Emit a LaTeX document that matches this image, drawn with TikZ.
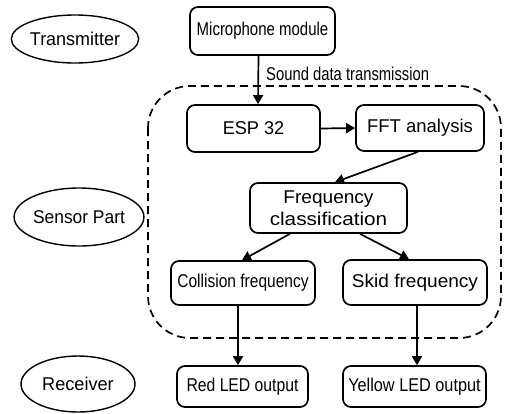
\documentclass[tikz,border=0pt]{standalone}
\usepackage{fontspec}
\setmainfont{Liberation Sans}
\usepackage{graphicx}
\usetikzlibrary{calc,arrows.meta,shapes.geometric}
\newcommand{\sx}[2]{\scalebox{#1}[1]{#2}}
\tikzset{
  box/.style={draw, line width=1.7pt, rounded corners=8pt, inner sep=0pt, font=\fontsize{18.5}{22}\selectfont},
  oval/.style={draw, line width=1.4pt, ellipse, inner sep=0pt, font=\fontsize{18.5}{22}\selectfont},
  arr/.style={line width=1.7pt, -{Triangle[length=9pt,width=10pt]}},
  region/.style={draw, line width=1.7pt, dashed, dash pattern=on 8pt off 5pt, rounded corners=42pt}
}
\begin{document}
\begin{tikzpicture}[x=1pt,y=-1pt]
\useasboundingbox (0,0) rectangle (505,413);
\fill[white] (0,0) rectangle (505,413);
% region
\draw[region] (148,86) rectangle (501,338);
% ellipses
\node[oval, minimum width=124pt, minimum height=48pt] (trans) at (75,39) {\sx{0.97}{Transmitter}};
\node[oval, minimum width=114pt, minimum height=58pt] (sensor) at (79,217) {\sx{0.94}{Sensor Part}};
\node[oval, minimum width=114pt, minimum height=56pt] (recv) at (78,384) {\sx{0.98}{Receiver}};
% boxes
\node[box, minimum width=145pt, minimum height=48pt] (mic) at (262.5,31) {\sx{0.81}{Microphone module}};
\node[box, minimum width=133pt, minimum height=47pt] (esp) at (253.5,128.5) {\sx{0.98}{ESP 32}};
\node[box, minimum width=128pt, minimum height=46pt] (fft) at (420,128) {\sx{1.0}{FFT analysis}};
\node[box, minimum width=157pt, minimum height=50pt, align=center] (freq) at (328.5,208) {\sx{1.03}{Frequency}\\[0pt]\sx{1.12}{classification}};
\node[box, minimum width=144pt, minimum height=44pt] (coll) at (243,283) {\sx{0.84}{Collision frequency}};
\node[box, minimum width=144pt, minimum height=45pt] (skid) at (415,282.5) {\sx{1.03}{Skid frequency}};
\node[box, minimum width=131pt, minimum height=41pt] (red) at (242.5,386.5) {\sx{0.85}{Red LED output}};
\node[box, minimum width=143pt, minimum height=41pt] (yel) at (414.5,386.5) {\sx{0.88}{Yellow LED output}};
% label
\node[anchor=west, inner sep=0pt, font=\fontsize{18.5}{22}\selectfont] (lbl) at (266,74) {\sx{0.8}{Sound data transmission}};
% connectors
\draw[arr] ($(mic.south)+(-4,0)$) -- ($(esp.north)+(4.5,0)$);
\draw[arr] (esp.east) -- (fft.west);
\draw[arr] ($(fft.south)+(-2,0)$) -- ($(freq.north)+(6.5,0)$);
\draw[arr] ($(freq.south)+(-38.5,0)$) -- ($(coll.north)+(-1,0)$);
\draw[arr] ($(freq.south)+(31.5,0)$) -- ($(skid.north)+(-6,0)$);
\draw[arr] ($(coll.south)+(-5,0)$) -- ($(red.north)+(-4.5,0)$);
\draw[arr] ($(skid.south)+(2,0)$) -- ($(yel.north)+(2.5,0)$);
\end{tikzpicture}
\end{document}
